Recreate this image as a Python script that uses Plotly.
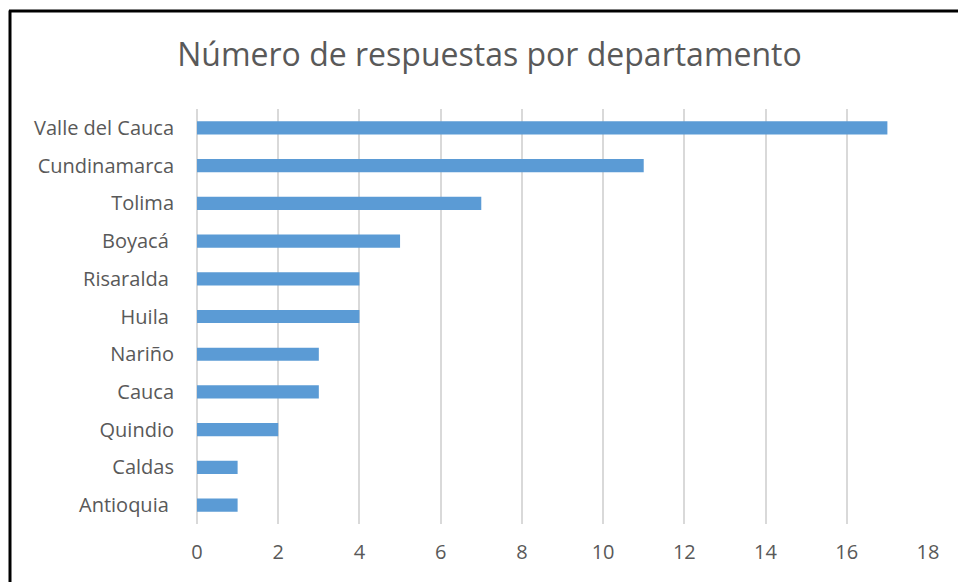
import plotly.graph_objects as go

departamentos = ["Valle del Cauca", "Cundinamarca", "Tolima", "Boyacá\u00a0", "Risaralda\u00a0",
                 "Huila\u00a0", "Nariño", "Cauca", "Quindio", "Caldas", "Antioquia\u00a0"]
respuestas = [17, 11, 7, 5, 4, 4, 3, 3, 2, 1, 1]
x_ticks = [0, 2, 4, 6, 8, 10, 12, 14, 16, 18]

W, H = 958, 582
L, R, T, B = 197, 30, 109, 58

fig = go.Figure(go.Bar(
    y=departamentos, x=respuestas, orientation="h",
    marker=dict(color="#5B9BD5", line=dict(width=0)),
    width=0.35,
))

pw = W - L - R
ph = H - T - B
def px_x(p):
    return (p - L) / pw
def px_y(p):
    return 1 - (p - T) / ph

fig.update_layout(
    width=W, height=H,
    margin=dict(l=L, r=R, t=T, b=B),
    paper_bgcolor="white", plot_bgcolor="white",
    title=dict(text="Número de respuestas por departamento",
               x=489.5 / W, xanchor="center", y=1 - 55 / H, yanchor="middle",
               font=dict(family="Open Sans", size=32, color="#595959")),
    font=dict(family="Open Sans", color="#595959"),
    xaxis=dict(range=[0, 18], tickvals=x_ticks, showgrid=True, gridcolor="#D9D9D9",
               gridwidth=1.5, zeroline=True, zerolinecolor="#D9D9D9", zerolinewidth=1.5,
               tickfont=dict(size=20, color="#595959"), ticks="", showline=False,
               ticklabelstandoff=14),
    yaxis=dict(categoryorder="array", categoryarray=departamentos[::-1],
               tickfont=dict(size=20, color="#595959"), ticks="", showgrid=False,
               ticklabelstandoff=22),
    bargap=0.65,
    showlegend=False,
    shapes=[
        dict(type="line", xref="paper", yref="paper", x0=px_x(10), x1=px_x(10),
             y0=px_y(10.5), y1=px_y(600), line=dict(color="black", width=3)),
        dict(type="line", xref="paper", yref="paper", x0=px_x(9), x1=px_x(1000),
             y0=px_y(11), y1=px_y(11), line=dict(color="black", width=3)),
    ],
)

fig.write_html("out.html", config={"displayModeBar": False},
               post_script="document.body.style.margin='0';document.body.style.overflow='hidden';")
